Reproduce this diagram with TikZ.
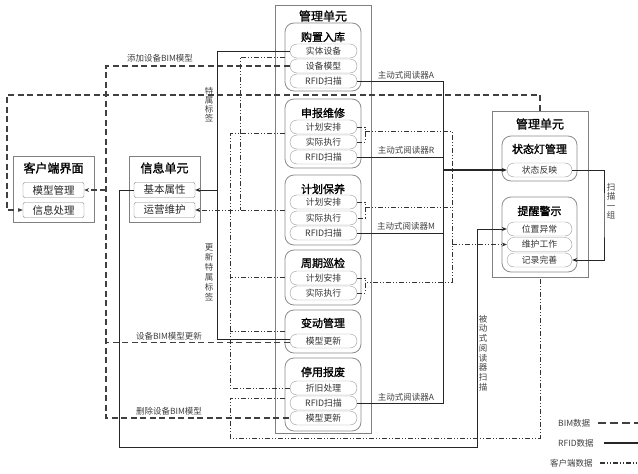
\documentclass[tikz,border=0pt]{standalone}
\usepackage{fontspec}
\setmainfont{Noto Sans CJK SC}
\newfontfamily\tb[FakeBold=1.4]{Noto Sans CJK SC}
\usetikzlibrary{shapes.misc,arrows.meta,calc}
\begin{document}
\begin{tikzpicture}[x=1pt,y=-1pt,
 outer/.style={draw=black!50,line width=0.9pt,inner sep=0pt},
 grp/.style={draw=black!45,rounded corners=9pt,line width=0.8pt,inner sep=0pt},
 pill/.style={draw=black!40,rounded rectangle,minimum width=67pt,minimum height=14pt,inner sep=0pt,font=\fontsize{8.8}{9}\selectfont,text=black!80},
 rpill/.style={pill,minimum width=65pt},
 litem/.style={draw=black!50,rounded corners=2pt,minimum width=61pt,minimum height=15pt,inner sep=0pt,font=\fontsize{10.5}{11}\selectfont,text=black!85},
 ttl/.style={font=\tb\fontsize{12}{13}\selectfont,inner sep=0pt},
 sttl/.style={font=\tb\fontsize{11}{12}\selectfont,inner sep=0pt},
 lab/.style={font=\fontsize{8.5}{9}\selectfont,text=black!75,inner sep=0pt},
 vlab/.style={lab,align=center,text width=10pt,execute at begin node={\lineskiplimit=-20pt\lineskip=0pt}},
 bim/.style={draw=black!75,line width=1.1pt,dash pattern=on 6pt off 3.5pt},
 rf/.style={draw=black!85,line width=1pt},
 cl/.style={draw=black!80,line width=1pt,dash pattern=on 5pt off 2pt on 1pt off 2pt on 1pt off 2pt},
 arr/.style={-{Stealth[length=5pt,width=4pt]}},
]
\useasboundingbox (0,0) rectangle (638,474);

% central management unit
\node[outer,minimum width=96pt,minimum height=428pt] (M) at (323,219) {};
\node[ttl] (Mt) at (323,16) {管理单元};

\node[grp,minimum width=76pt,minimum height=68pt] (g1) at (323,57) {};
\node[sttl] (g1t) at (323,37) {购置入库};
\node[pill] (g1a) at (323.5,51) {实体设备};
\node[pill] (g1b) at (323.5,66) {设备模型};
\node[pill] (g1c) at (323.5,81) {RFID扫描};

\node[grp,minimum width=76pt,minimum height=69pt] (g2) at (323,133.5) {};
\node[sttl] (g2t) at (323,113) {申报维修};
\node[pill] (g2a) at (323.5,127) {计划安排};
\node[pill] (g2b) at (323.5,142) {实际执行};
\node[pill] (g2c) at (323.5,157) {RFID扫描};

\node[grp,minimum width=76pt,minimum height=70pt] (g3) at (323,210) {};
\node[sttl] (g3t) at (323,189) {计划保养};
\node[pill] (g3a) at (323.5,202) {计划安排};
\node[pill] (g3b) at (323.5,218) {实际执行};
\node[pill] (g3c) at (323.5,233) {RFID扫描};

\node[grp,minimum width=76pt,minimum height=55pt] (g4) at (323,277.5) {};
\node[sttl] (g4t) at (323,263) {周期巡检};
\node[pill] (g4a) at (323.5,278) {计划安排};
\node[pill] (g4b) at (323.5,293) {实际执行};

\node[grp,minimum width=76pt,minimum height=43pt] (g5) at (323,331.5) {};
\node[sttl] (g5t) at (323,323) {变动管理};
\node[pill] (g5a) at (323.5,341) {模型更新};

\node[grp,minimum width=76pt,minimum height=73pt] (g6) at (323,394.5) {};
\node[sttl] (g6t) at (323,372) {停用报废};
\node[pill] (g6a) at (323.5,388) {折旧处理};
\node[pill] (g6b) at (323.5,403) {RFID扫描};
\node[pill] (g6c) at (323.5,418) {模型更新};

% right management unit
\node[outer,minimum width=96pt,minimum height=166pt] (R) at (540,194) {};
\node[ttl] (Rt) at (540,124) {管理单元};
\node[grp,minimum width=75pt,minimum height=45pt] (r1) at (539.5,158.5) {};
\node[sttl] (r1t) at (539.5,149) {状态灯管理};
\node[rpill] (r1a) at (539.5,170) {状态反映};
\node[grp,minimum width=75pt,minimum height=75pt] (r2) at (539.5,234.5) {};
\node[sttl] (r2t) at (539.5,211) {提醒警示};
\node[rpill] (r2a) at (539.5,229) {位置异常};
\node[rpill] (r2b) at (539.5,244.5) {维护工作};
\node[rpill] (r2c) at (539.5,260) {记录完善};

% left boxes
\node[outer,minimum width=81pt,minimum height=66pt] (C) at (53.5,189) {};
\node[ttl] (Ct) at (53.5,168) {客户端界面};
\node[litem] (Cm) at (53.5,190) {模型管理};
\node[litem] (Ci) at (53.5,210) {信息处理};

\node[outer,minimum width=71pt,minimum height=66pt] (I) at (164.5,189) {};
\node[ttl] (It) at (164.5,168) {信息单元};
\node[litem] (Ib) at (164.5,190) {基本属性};
\node[litem] (Io) at (164.5,210) {运营维护};

% helper coordinates
\coordinate (xb) at (106,0);
\coordinate (xs) at (217,0);
\coordinate (x240) at (240,0);
\coordinate (x230) at (230,0);
\coordinate (xa) at (443,0);
\coordinate (xv) at (452,0);
\coordinate (bx) at (365,0);
\coordinate (bimL) at (7,95);
\coordinate (pBL) at (119,447);
\coordinate (pB) at (477,447);
\coordinate (sx2) at (604,215);
\coordinate (dBL) at (230,438);
\coordinate (dBR) at (540,438);
\coordinate (g5d) at ([yshift=-1.5pt]g5a.west);
\coordinate (g5s) at ([yshift=1.5pt]g5a.west);
\coordinate (g6d) at ([yshift=-3.5pt]g6.west);
\coordinate (h2) at ($(g2a.east -| bx)+(0,4)$);
\coordinate (h3) at ($(g3a.east -| bx)+(0,5)$);
\coordinate (h4) at ($(g4a.east -| bx)+(0,4)$);

% BIM data
\draw[bim] (g1b.west) -- (g1b.west -| xb) -- (xb |- g6c.west) -- (g6c.west);
\draw[bim] (g5d) -- (g5d -| xb);
\draw[bim,arr] (Cm.east -| xb) -- (Cm.east);
\draw[bim,arr] (R.north) |- (bimL) |- (Ci.west);

% RFID data
\draw[rf] (g1a.west) -- (g1a.west -| xs) -- (g5s -| xs) -- (g5s);
\draw[rf,arr] (Ib.east -| xs) -- (Ib.east);
\draw[rf,arr] (Ib.west) -| (pBL) -- (pB) |- (r2a.west);
\draw[rf] (g1c.east) -- (g1c.east -| xa) -- (g6b.east -| xa) -- (g6b.east);
\draw[rf] (g2c.east) -- (g2c.east -| xa);
\draw[rf] (g3c.east) -- (g3c.east -| xa);
\draw[rf,arr,line width=1.6pt] (r1a.west -| xa) -- (r1a.west);
\draw[rf,arr] (r1a.east) -| (sx2) |- (r2c.east);

% client data
\draw[cl] (g1.west) -| (x240 |- Io.east);
\draw[cl,arr] (g3.west) -- (Io.east);
\draw[cl] (g2.west) -| (x230 |- g6a.west) -- (g6a.west);
\draw[cl] (g4.west) -- (g4.west -| x230);
\draw[cl] (g5.west) -- (g5.west -| x230);
\draw[cl] (g6d) -| (dBL) -- (dBR) -- (R.south);
\draw[cl] (g2a.east) -| (bx |- g2b.east) -- (g2b.east);
\draw[cl] (g3a.east) -| (bx |- g3b.east) -- (g3b.east);
\draw[cl] (g4a.east) -| (bx |- g4b.east) -- (g4b.east);
\draw[cl] (h2) -- (h2 -| xv) -- (h4 -| xv) -- (h4);
\draw[cl] (h3) -- (h3 -| xv);
\draw[cl,arr] (r2b.west -| xv) -- (r2b.west);

% labels
\node[lab] (l1) at (160,58) {添加设备BIM模型};
\node[lab] (l2) at (169,336) {设备BIM模型更新};
\node[lab] (l3) at (169,411) {删除设备BIM模型};
\node[vlab,font=\fontsize{8.5}{9}\selectfont] (l4) at (209,105) {特\\属\\标\\签};
\node[vlab,font=\fontsize{8.5}{10}\selectfont] (l5) at (209,272) {更\\新\\特\\属\\标\\签};
\node[vlab,font=\fontsize{8.5}{9.7}\selectfont] (l6) at (483,353) {被\\动\\式\\阅\\读\\器\\扫\\描};
\node[vlab,font=\fontsize{8.5}{9.5}\selectfont] (l7) at (611,201) {扫\\描\\一\\组};
\node[lab] (a1) at (406,75) {主动式阅读器A};
\node[lab] (a2) at (406,150) {主动式阅读器R};
\node[lab] (a3) at (406,226) {主动式阅读器M};
\node[lab] (a4) at (406,397) {主动式阅读器A};

% legend
\node[lab,anchor=west] (lg1) at (558,423) {BIM数据};
\node[lab,anchor=west] (lg2) at (558,443) {RFID数据};
\node[lab,anchor=west] (lg3) at (550,463) {客户端数据};
\coordinate (lb1) at (598,423); \coordinate (le1) at (638,423);
\coordinate (lb2) at (604,443); \coordinate (le2) at (638,443);
\coordinate (lb3) at (600,463); \coordinate (le3) at (638,463);
\draw[bim,line width=1.4pt,dash pattern=on 8pt off 4pt] (lb1) -- (le1);
\draw[rf,line width=1.4pt] (lb2) -- (le2);
\draw[cl,line width=1.4pt] (lb3) -- (le3);
\end{tikzpicture}
\end{document}
